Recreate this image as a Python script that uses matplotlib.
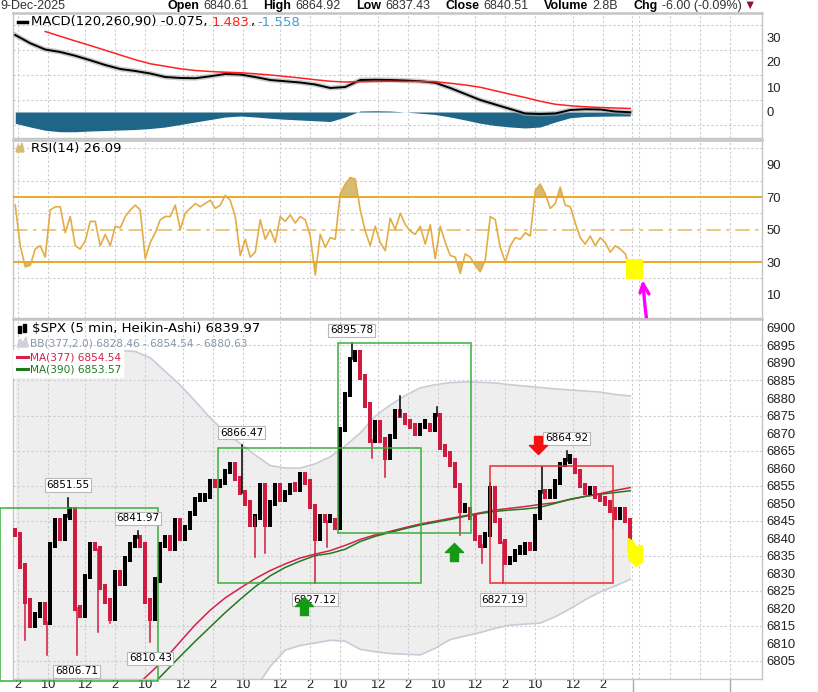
import numpy as np
import matplotlib.pyplot as plt
from matplotlib.patches import Rectangle, Polygon
from matplotlib.path import Path

plt.rcParams['font.family'] = ['Liberation Sans', 'DejaVu Sans']

W, H = 818, 692

# x = 5-minute bars counted from the 9:30 open of 1-Dec (78 bars a session)
price_x = np.arange(52, 546, 4)
price_close = [
    6841, 6832, 6822, 6815, 6818, 6821, 6816, 6838, 6845, 6840,
    6846, 6848, 6820, 6818, 6829, 6838, 6837, 6826, 6822, 6817,
    6830, 6827, 6834, 6838, 6840, 6838, 6822, 6817, 6828, 6838,
    6840, 6837, 6845, 6840, 6843, 6847, 6851, 6851, 6852, 6856,
    6855, 6856, 6859, 6861, 6857, 6853, 6850, 6844, 6846, 6855,
    6844, 6850, 6855, 6851, 6853, 6855, 6854, 6858, 6856, 6849,
    6840, 6846, 6845, 6845, 6843, 6871, 6881, 6891, 6893, 6886,
    6878, 6868, 6873, 6868, 6863, 6869, 6876, 6875, 6873, 6872,
    6870, 6872, 6872, 6871, 6875, 6866, 6864, 6861, 6855, 6848,
    6848, 6846, 6840, 6838, 6841, 6854, 6845, 6839, 6833, 6834,
    6836, 6836, 6838, 6837, 6846, 6853, 6852, 6852, 6856, 6861,
    6862, 6862, 6859, 6855, 6853, 6854, 6852, 6851, 6850, 6848,
    6846, 6848, 6845, 6840]
rsi14 = [
    65, 40, 27, 28, 38, 40, 33, 62, 64, 64,
    48, 58, 40, 38, 43, 55, 55, 40, 47, 40,
    52, 51, 58, 62, 65, 62, 32, 42, 48, 56,
    58, 58, 65, 50, 60, 63, 66, 64, 66, 68,
    63, 65, 71, 68, 58, 34, 44, 33, 36, 56,
    44, 50, 42, 58, 55, 59, 54, 58, 56, 46,
    22, 47, 39, 45, 44, 72, 78, 82, 81, 62,
    49, 40, 52, 42, 37, 57, 50, 60, 53, 49,
    47, 52, 41, 53, 32, 52, 42, 34, 33, 23,
    35, 33, 28, 24, 31, 58, 56, 39, 30, 40,
    45, 44, 48, 46, 74, 78, 72, 63, 66, 76,
    65, 64, 54, 45, 41, 46, 40, 45, 42, 36,
    40, 38, 35, 26]

ind_x = np.arange(52, 546, 12)
macd = [
    30.8, 27.5, 25.0, 24.0, 22.5, 20.7, 18.8, 17.2, 16.4, 15.4,
    14.0, 13.6, 13.5, 14.3, 15.2, 15.0, 14.0, 12.8, 12.3, 11.8,
    11.0, 9.6, 10.0, 12.8, 12.9, 12.8, 12.6, 12.3, 11.7, 9.6,
    7.2, 4.8, 3.0, 1.2, -0.6, -0.8, -0.6, 0.8, 1.1, 1.0,
    0.2, -0.1]
macd_signal = [
    np.nan, np.nan, 32.2, 30.3, 28.4, 26.6, 24.7, 22.8, 20.9, 19.3,
    18.3, 17.3, 16.6, 16.2, 15.9, 15.7, 15.3, 14.8, 14.2, 13.6,
    12.9, 12.3, 12.0, 12.1, 12.2, 12.3, 12.2, 12.2, 12.1, 11.5,
    10.8, 9.9, 8.5, 7.1, 5.8, 4.3, 3.1, 2.5, 2.1, 1.8,
    1.6, 1.4]
macd_hist = [
    -4.5, -6.0, -7.3, -7.9, -7.9, -7.6, -7.4, -7.2, -7.0, -6.6,
    -6.0, -5.0, -4.0, -3.0, -2.0, -1.6, -2.0, -2.5, -2.9, -3.2,
    -3.5, -3.8, -2.0, 0.4, 0.5, 0.4, 0.0, -0.5, -1.0, -2.0,
    -3.2, -4.5, -5.4, -6.0, -6.4, -6.0, -4.0, -2.3, -1.8, -1.7,
    -1.6, -1.6]
bb_upper = [
    6893.0, 6893.0, 6893.0, 6893.0, 6893.0, 6893.0, 6893.2, 6893.5, 6893.3, 6891.5,
    6887.6, 6883.7, 6879.1, 6874.3, 6870.2, 6867.0, 6863.7, 6860.7, 6860.0, 6860.0,
    6861.2, 6863.2, 6866.3, 6870.0, 6874.8, 6878.0, 6880.7, 6882.9, 6883.8, 6884.4,
    6884.6, 6884.5, 6884.3, 6883.8, 6883.4, 6883.0, 6882.6, 6882.3, 6882.0, 6881.7,
    6881.0, 6880.6]
bb_lower = [
    6790.0, 6790.0, 6790.0, 6790.0, 6790.0, 6790.0, 6790.0, 6790.0, 6790.0, 6790.0,
    6790.5, 6791.0, 6791.5, 6792.0, 6793.0, 6794.0, 6797.0, 6803.3, 6808.0, 6809.3,
    6810.0, 6810.8, 6810.5, 6808.2, 6807.5, 6807.0, 6806.8, 6806.6, 6808.5, 6811.0,
    6812.0, 6813.0, 6814.2, 6815.1, 6815.4, 6815.7, 6817.5, 6819.8, 6822.4, 6824.6,
    6826.3, 6828.2]
ma377 = [np.nan] * 8 + [
    6797.5, 6801.5, 6805.5, 6810.4, 6815.2, 6819.4, 6822.9, 6825.7, 6828.4, 6830.7,
    6832.6, 6834.3, 6835.4, 6836.4, 6837.9, 6839.6, 6840.9, 6841.9, 6843.0, 6844.0,
    6844.8, 6845.6, 6846.4, 6847.2, 6848.0, 6848.5, 6849.0, 6849.6, 6850.1, 6851.0,
    6851.9, 6852.7, 6853.6, 6854.4]
ma390 = [np.nan] * 9 + [
    6797.4, 6801.8, 6806.2, 6810.5, 6814.6, 6818.7, 6822.5, 6826.1, 6829.2, 6831.6,
    6833.4, 6835.0, 6835.6, 6836.8, 6839.0, 6840.5, 6841.6, 6842.7, 6843.7, 6844.5,
    6845.3, 6846.2, 6847.0, 6847.6, 6848.0, 6848.3, 6848.8, 6849.9, 6851.1, 6851.9,
    6852.5, 6853.0, 6853.5]

# labelled extremes (bar, price)
peak_bar = [94, 150, 233, 321, 493]
peak_val = [6851.55, 6841.97, 6866.47, 6895.78, 6864.92]
trough_bar = [101, 160, 292, 442]
trough_val = [6806.71, 6810.43, 6827.12, 6827.19]
# other long wicks
low_wick_bar = [60, 77, 118, 128, 244, 252, 301, 337, 348, 408, 425, 530]
low_wick_val = [6811, 6806.6, 6813.2, 6815.6, 6834.7, 6835.6, 6837.5, 6862.8, 6857.5, 6840.8, 6833, 6843]
high_wick_bar = [360, 389, 432, 473]
high_wick_val = [6880.6, 6877.4, 6855.6, 6860.3]

# drawn zones and arrows
zone_x0 = [39.8, 214.2, 310.2, 431.8]
zone_x1 = [166.2, 376.6, 416.4, 530.4]
zone_lo = [6799.2, 6827.12, 6841.3, 6827.19]
zone_hi = [6848.6, 6865.8, 6895.78, 6860.6]
zone_col = ['#3aae3a', '#3aae3a', '#3aae3a', '#ee2a2a']
arrow_bar = [283, 403, 470]
arrow_val = [6820.6, 6836.0, 6866.6]
arrow_up = [True, True, False]
arrow_col = ['#169a16', '#169a16', '#f01212']

tick_bars = [54] + [78 * d + o for d in range(1, 7) for o in (0, 30, 54)]
tick_text = ['2'] + ['10', '12', '2'] * 6
future_bars = [545.5, 551, 576, 600, 624]

fig = plt.figure(figsize=(W / 100, H / 100), dpi=100)


def panel(top, bottom):
    return fig.add_axes([13 / W, 1 - bottom / H, 749 / W, (bottom - top) / H])


ax_m = panel(13, 138)
ax_r = panel(140, 318)
ax_p = panel(319, 679)

grid_kw = dict(color='#cdcdcd', lw=0.8, ls=(0, (2, 2)), zorder=1)
for ax in (ax_m, ax_r, ax_p):
    ax.set_xlim(50.2, 649.4)
    for s in ax.spines.values():
        s.set_color('#c4c4c4')
        s.set_linewidth(1)
    ax.spines['top'].set_linewidth(1.8)
    ax.yaxis.tick_right()
    ax.tick_params(axis='y', length=0, pad=3, labelsize=9.4, labelcolor='#222222')
    ax.set_xticks(tick_bars)
    for b in tick_bars + future_bars:
        ax.axvline(b, **grid_kw)
for ax in (ax_m, ax_r):
    ax.tick_params(axis='x', length=0, labelbottom=False)
ax_p.set_xticklabels(tick_text)
ax_p.tick_params(axis='x', length=0, pad=0, labelsize=9.2, labelcolor='#222222')

# MACD
ax_m.set_ylim(-10.4, 39.6)
ax_m.set_yticks([0, 10, 20, 30])
for g in [-5, 5, 15, 25, 35]:
    ax_m.axhline(g, **grid_kw)
ax_m.fill_between(ind_x, 0, macd_hist, color='#1f6587', lw=0, zorder=2)
ax_m.plot(ind_x, macd, color='#aaaaaa', lw=3.6, alpha=0.6, zorder=3)
ax_m.plot(ind_x, macd, color='black', lw=1.4, zorder=4)
ax_m.plot(ind_x, macd_signal, color='#ff2020', lw=1.1, zorder=4)

# RSI
ax_r.set_ylim(-4.46, 105.1)
ax_r.set_yticks([10, 30, 50, 70, 90])
for g in [20, 40, 60, 80, 100]:
    ax_r.axhline(g, **grid_kw)
r = np.array(rsi14, float)
ax_r.fill_between(price_x, r, 70, where=r > 70, interpolate=True, color='#d6bb72', lw=0, zorder=2)
ax_r.fill_between(price_x, r, 30, where=r < 30, interpolate=True, color='#d6bb72', lw=0, zorder=2)
ax_r.axhline(70, color='#e6a219', lw=1.3, zorder=3)
ax_r.axhline(30, color='#e6a219', lw=1.3, zorder=3)
ax_r.axhline(50, color='#eac27a', lw=1.3, ls=(0, (8, 3, 2, 3)), zorder=3)
ax_r.plot(price_x, r, color='#e2ad45', lw=1.2, zorder=4)
ax_r.add_patch(Rectangle((540.6, 19.4), 13.6, 12.3, color='#ffff00', lw=0, zorder=6))
ax_r.plot([557.4, 555.8, 555.0, 554.2], [-7.5, 2.9, 9.7, 16.5], color='#ff00ff',
          lw=2.4, clip_on=False, zorder=7, solid_capstyle='round')
ax_r.plot([551.8, 554.2, 559.0], [11.0, 16.5, 10.3], color='#ff00ff',
          lw=2.4, clip_on=False, zorder=7, solid_capstyle='round')

# price
ax_p.set_ylim(6799.72, 6902.57)
ax_p.set_yticks(np.arange(6805, 6901, 5))
for g in np.arange(6805, 6900, 10):
    ax_p.axhline(g, **grid_kw)
ax_p.fill_between(ind_x, bb_lower, bb_upper, color='#eeeeee', lw=0, zorder=0.5)
ax_p.plot(ind_x, bb_upper, color='#c9ccd8', lw=1.2, zorder=1.5)
ax_p.plot(ind_x, bb_lower, color='#c9ccd8', lw=1.2, zorder=1.5)
ax_p.plot(ind_x, ma377, color='#d6204a', lw=1.1, zorder=2)
ax_p.plot(ind_x, ma390, color='#1f7a1f', lw=1.1, zorder=2)

close = np.array(price_close, float)
open_ = np.r_[close[0] + 1, close[:-1]]
up = close >= open_
lo = np.minimum(open_, close) - 0.8
hgt = np.maximum(np.abs(close - open_), 1.2) + 1.6
red = '#d01a40'
ax_p.bar(price_x, hgt, bottom=lo, width=3.0, color=np.where(up, 'black', red), zorder=3)


def wick(b, v, col):
    j = np.argmin(np.abs(price_x - b))
    ax_p.plot([b, b], [close[j], v], color=col, lw=1.1, zorder=3)


for b, v in zip(low_wick_bar + trough_bar, low_wick_val + trough_val):
    wick(b, v, red)
for b, v in zip(high_wick_bar + peak_bar, high_wick_val + peak_val):
    wick(b, v, 'black')

box = dict(boxstyle='square,pad=0.15', fc='white', ec='#b8b8b8', lw=0.8)
for b, v in zip(peak_bar, peak_val):
    ax_p.annotate(f'{v:.2f}', (b, v), xytext=(0, 5.5), textcoords='offset points',
                  ha='center', va='bottom', fontsize=7.5, family='DejaVu Sans',
                  bbox=box, zorder=8)
for b, v in zip(trough_bar, trough_val):
    ax_p.annotate(f'{v:.2f}', (b, v), xytext=(0, -8.5), textcoords='offset points',
                  ha='center', va='top', fontsize=7.5, family='DejaVu Sans',
                  bbox=box, zorder=8)

for x0, x1, y0, y1, c in zip(zone_x0, zone_x1, zone_lo, zone_hi, zone_col):
    ax_p.add_patch(Rectangle((x0, y0), x1 - x0, y1 - y0, fill=False, ec=c, lw=1.1,
                             clip_on=False, zorder=5))

up_arrow = Path([(-0.5, 0.0), (0.0, 0.5), (0.5, 0.0), (0.22, 0.0), (0.22, -0.5),
                 (-0.22, -0.5), (-0.22, 0.0), (-0.5, 0.0)], closed=True)
down_arrow = Path([(x, -y) for x, y in up_arrow.vertices], closed=True)
for b, v, u, c in zip(arrow_bar, arrow_val, arrow_up, arrow_col):
    ax_p.plot(b, v, marker=up_arrow if u else down_arrow, ms=13, color=c, mec=c, zorder=9)

ax_p.add_patch(Polygon([(541.4, 6840.3), (547, 6839.1), (548.6, 6837.7), (554.2, 6838.0),
                        (554.2, 6832.9), (548.6, 6831.7), (543, 6833.4), (541.4, 6836.6)],
                       closed=True, color='#ffff00', lw=0, clip_on=False, zorder=7))
for b in (546, 624):
    ax_p.plot([b, b], [6799.72, 6796], color='#aaaaaa', lw=1, clip_on=False)

# white patch behind the price legend
ax_p.add_patch(Rectangle((0, 0.839), 0.147, 0.075, transform=ax_p.transAxes,
                         color='white', zorder=5))

# overlay in pixel units for header and legends
over = fig.add_axes([0, 0, 1, 1], zorder=10)
over.set_xlim(0, W)
over.set_ylim(H, 0)
over.axis('off')
over.patch.set_alpha(0)


def run(x, y, pieces, size, family):
    t = None
    for s, col, weight, gap in pieces:
        kw = dict(fontsize=size, family=family, color=col, fontweight=weight)
        if t is None:
            t = over.text(x, y, s, va='center', ha='left', **kw)
        else:
            t = over.annotate(s, xy=(1, 0), xycoords=t, xytext=(gap, 0),
                              textcoords='offset points', va='bottom', ha='left', **kw)
    return t


LS = ['Liberation Sans', 'DejaVu Sans']
run(0, 6, [('9-Dec-2025', '#333333', 'normal', 0)], 9, LS)
run(167, 6, [('Open', 'black', 'bold', 0), ('6840.61', '#333333', 'normal', 3),
             ('High', 'black', 'bold', 11), ('6864.92', '#333333', 'normal', 3),
             ('Low', 'black', 'bold', 11), ('6837.43', '#333333', 'normal', 3),
             ('Close', 'black', 'bold', 11), ('6840.51', '#333333', 'normal', 3),
             ('Volume', 'black', 'bold', 11), ('2.8B', '#333333', 'normal', 3),
             ('Chg', 'black', 'bold', 11), ('-6.00 (-0.09%)', '#333333', 'normal', 3),
             ('\u25bc', '#8b1538', 'normal', 1)], 9, LS)

DV = 'DejaVu Sans'
over.plot([18, 27], [22, 22], color='black', lw=2.5)
run(31, 22, [('MACD(120,260,90) -0.075,', 'black', 'normal', 0),
             ('1.483', '#ff2020', 'normal', 3), (',', 'black', 'normal', 0),
             ('-1.558', '#3d9fd6', 'normal', 3)], 9.5, DV)

over.add_patch(Polygon([(16, 152), (18, 145), (20, 148), (22, 143), (24, 152)],
                       closed=True, color='#d6bb72'))
run(31, 148.5, [('RSI(14) 26.09', 'black', 'normal', 0)], 9.5, DV)

over.add_patch(Rectangle((18, 326), 3, 7, color='black'))
over.add_patch(Rectangle((23, 324), 3, 8, color='black'))
run(32, 329, [('$SPX (5 min, Heikin-Ashi) 6839.97', 'black', 'normal', 0)], 9.5, DV)
over.add_patch(Polygon([(17, 347), (20, 339), (23, 343), (26, 337), (28, 347)],
                       closed=True, color='#cfd1da'))
run(30, 343, [('BB(377,2.0) 6828.46 - 6854.54 - 6880.63', '#8a98a8', 'normal', 0)], 7.6, DV)
over.plot([17, 28], [357, 357], color='#d6204a', lw=2.2)
run(30, 357, [('MA(377) 6854.54', '#d6204a', 'normal', 0)], 7.6, DV)
over.plot([17, 28], [369, 369], color='#1f7a1f', lw=2.2)
run(30, 369, [('MA(390) 6853.57', '#1f7a1f', 'normal', 0)], 7.6, DV)

fig.savefig('out.png', dpi=100)
